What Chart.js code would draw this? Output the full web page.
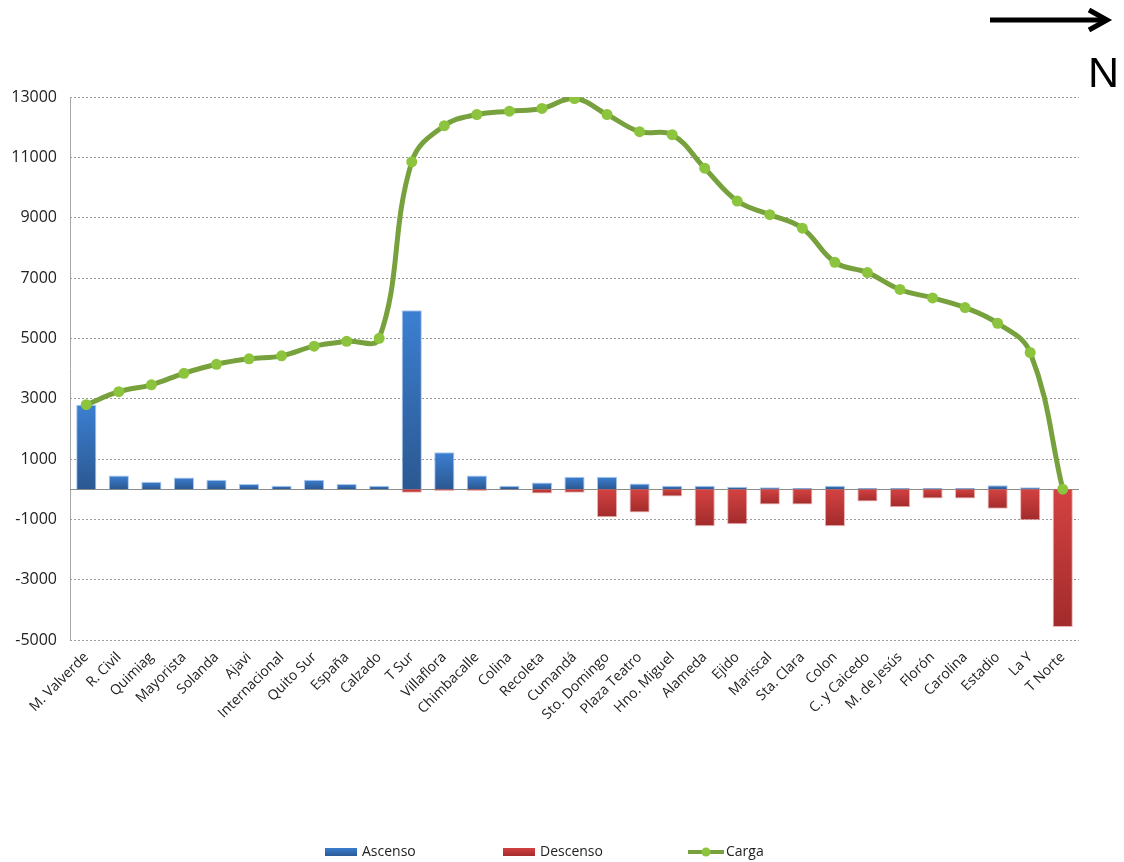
<!DOCTYPE html>
<html lang="es">
<head>
<meta charset="utf-8">
<title>Ascenso, Descenso y Carga por estación</title>
<script src="https://cdn.jsdelivr.net/npm/chart.js@4.4.1/dist/chart.umd.min.js"></script>
<style>
    html, body { margin: 0; padding: 0; background: #fff; }
    #wrap { position: relative; width: 1124px; height: 862px; font-family: "Open Sans", sans-serif; }
    #cargaChart { display: block; }
    #north { position: absolute; left: 986px; top: 5px; }
    #northLabel { position: absolute; left: 1088px; top: 48px; font: 43px "Liberation Sans", Arial, sans-serif; color: #000; }
    .leg { position: absolute; top: 841px; font-size: 14px; color: #222; line-height: 20px; white-space: nowrap; }
    .leg .sw { display: inline-block; vertical-align: middle; margin-right: 5px; }
</style>
</head>
<body>
<div id="wrap">
    <canvas id="cargaChart" width="1124" height="862"></canvas>

    <svg id="north" width="130" height="30" viewBox="0 0 130 30">
        <line x1="4" y1="15" x2="118" y2="15" stroke="#000" stroke-width="5"/>
        <polyline points="103,5 121,15 103,25" fill="none" stroke="#000" stroke-width="5"/>
    </svg>
    <div id="northLabel">N</div>

    <div class="leg" style="left:325px"><span class="sw" style="width:32px;height:8px;background:linear-gradient(#3b7dd0,#2c5a94)"></span>Ascenso</div>
    <div class="leg" style="left:503px"><span class="sw" style="width:32px;height:8px;background:linear-gradient(#d44242,#a32c2c)"></span>Descenso</div>
    <div class="leg" style="left:688px"><svg class="sw" width="36" height="12" viewBox="0 0 36 12" style="margin-right:2px"><line x1="0" y1="6" x2="36" y2="6" stroke="#77a13c" stroke-width="4"/><circle cx="18" cy="6" r="4.5" fill="#8cc43e"/></svg>Carga</div>
</div>

<script>
/* ---------------- Data ---------------- */

const stations = [
    "M. Valverde", "R. Civil", "Quimiag", "Mayorista", "Solanda", "Ajavi",
    "Internacional", "Quito Sur", "España", "Calzado", "T Sur", "Villaflora",
    "Chimbacalle", "Colina", "Recoleta", "Cumandá", "Sto. Domingo", "Plaza Teatro",
    "Hno. Miguel", "Alameda", "Ejido", "Mariscal", "Sta. Clara", "Colon",
    "C. y Caicedo", "M. de Jesús", "Florón", "Carolina", "Estadio", "La Y", "T Norte"
];

const ascenso = [
    2800, 450, 250, 390, 310, 170, 110, 310, 170, 110, 5930, 1220,
    450, 110, 220, 410, 410, 190, 110, 110, 80, 60, 40, 110,
    40, 40, 40, 40, 130, 60, 0
];

const descenso = [
    0, 0, 0, 0, 0, 0, 0, 0, 0, 0, -120, -60,
    -60, -20, -140, -120, -930, -770, -240, -1230, -1160, -510, -510, -1230,
    -410, -600, -310, -310, -650, -1030, -4570
];

const carga = [
    2800, 3230, 3460, 3840, 4140, 4320, 4420, 4740, 4900, 5000, 10850, 12050,
    12420, 12530, 12620, 12950, 12420, 11850, 11750, 10640, 9550, 9100, 8650, 7520,
    7180, 6620, 6340, 6020, 5500, 4530, 0
];

const yTicks = [-5000, -3000, -1000, 1000, 3000, 5000, 7000, 9000, 11000, 13000];

/* ---------------- Helpers ---------------- */

// vertical gradient running over each bar's own height
function barGradient(light, dark) {
    return ctx => {
        const chart = ctx.chart;
        const y = chart.scales.y;
        if (!y || !chart.chartArea || ctx.type !== "data") return light;
        const p0 = y.getPixelForValue(0);
        const p1 = y.getPixelForValue(ctx.raw);
        if (!isFinite(p0) || !isFinite(p1) || Math.abs(p1 - p0) < 1) return dark;
        const g = chart.ctx.createLinearGradient(0, Math.min(p0, p1), 0, Math.max(p0, p1));
        g.addColorStop(0, light);
        g.addColorStop(1, dark);
        return g;
    };
}

// solid value axis and zero line
const axisLines = {
    id: "axisLines",
    beforeDatasetsDraw(chart) {
        const { ctx, chartArea, scales } = chart;
        const y0 = Math.round(scales.y.getPixelForValue(0)) + 0.5;
        const x0 = Math.round(chartArea.left) + 0.5;
        ctx.save();
        ctx.lineWidth = 1;
        ctx.strokeStyle = "#a6a6a6";
        ctx.beginPath();
        ctx.moveTo(x0, chartArea.top);
        ctx.lineTo(x0, chartArea.bottom);
        ctx.stroke();
        ctx.strokeStyle = "#8c8c8c";
        ctx.beginPath();
        ctx.moveTo(chartArea.left, y0);
        ctx.lineTo(chartArea.right, y0);
        ctx.stroke();
        ctx.restore();
    }
};

/* ---------------- Chart ---------------- */

new Chart(document.getElementById("cargaChart"), {
    type: "bar",
    data: {
        labels: stations,
        datasets: [
            {
                type: "line",
                label: "Carga",
                data: carga,
                borderColor: "#77a13c",
                borderWidth: 5,
                tension: 0.4,
                pointRadius: 5.5,
                pointBackgroundColor: "#8cc43e",
                pointBorderWidth: 0,
                order: 0
            },
            {
                label: "Ascenso",
                data: ascenso,
                backgroundColor: barGradient("#3c7fd2", "#2b5891"),
                borderColor: "rgba(150,185,230,0.8)",
                borderWidth: 1,
                barPercentage: 0.62,
                categoryPercentage: 1,
                order: 1
            },
            {
                label: "Descenso",
                data: descenso,
                backgroundColor: barGradient("#d44242", "#a22b2b"),
                borderColor: "rgba(230,160,160,0.8)",
                borderWidth: 1,
                barPercentage: 0.62,
                categoryPercentage: 1,
                order: 1
            }
        ]
    },
    options: {
        responsive: false,
        animation: false,
        layout: { padding: { top: 97, right: 45, bottom: 92, left: 0 } },
        plugins: {
            legend: { display: false },
            tooltip: { enabled: false }
        },
        scales: {
            x: {
                stacked: true,
                grid: { display: false },
                border: { display: false },
                ticks: {
                    color: "#222",
                    font: { family: "Open Sans", size: 14 },
                    minRotation: 45,
                    maxRotation: 45,
                    autoSkip: false,
                    padding: 1
                },
                afterFit: scale => { scale.height = 130; }
            },
            y: {
                min: -5000,
                max: 13000,
                grid: { color: "#9a9a9a", lineWidth: 1, drawTicks: false },
                border: { display: false, dash: [2, 2] },
                ticks: {
                    color: "#222",
                    font: { family: "Open Sans", size: 16 },
                    padding: 13,
                    callback: v => String(v)
                },
                afterBuildTicks: scale => {
                    scale.ticks = yTicks.map(v => ({ value: v }));
                },
                afterFit: scale => { scale.width = 70; }
            }
        }
    },
    plugins: [axisLines]
});
</script>
</body>
</html>
